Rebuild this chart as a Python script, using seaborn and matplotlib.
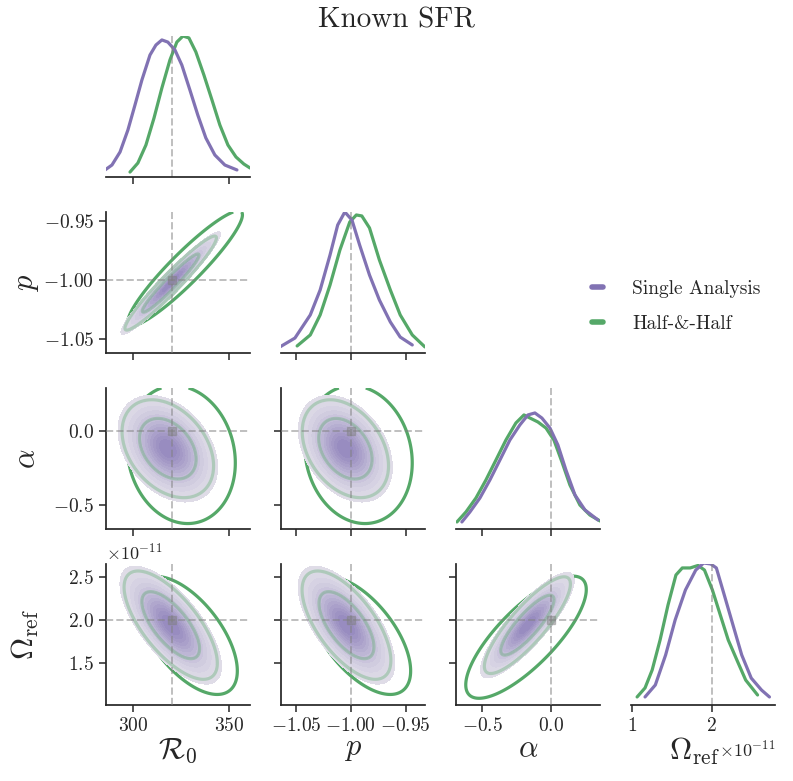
import numpy as np
import matplotlib
matplotlib.use("Agg")
import matplotlib.pyplot as plt
from matplotlib.lines import Line2D
from matplotlib.ticker import NullFormatter
import seaborn as sns

# ---- values ----
PARAM_LABELS = [r"$\mathcal{R}_0$", r"$p$", r"$\alpha$", r"$\Omega_{\rm ref}$"]
TRUTH = [320.0, -1.0, 0.0, 2.0]          # Omega in units of 1e-11
OMEGA_UNIT = 1e-11

# 1D marginals (relative density)
R0_SINGLE_X = [285.3, 288.9, 293.1, 297.2, 300.9, 304.5, 308.7, 311.8, 314.9, 318.0,
               321.7, 325.3, 329.5, 333.6, 337.8, 342.5, 347.7, 354.0]
R0_SINGLE_Y = [0.05, 0.085, 0.177, 0.333, 0.511, 0.688, 0.865, 0.936, 0.972, 0.957,
               0.901, 0.794, 0.617, 0.44, 0.277, 0.156, 0.085, 0.05]
R0_HALF_X = [298.3, 302.4, 306.6, 310.8, 314.9, 319.1, 322.7, 325.9, 329.0, 332.6,
             336.8, 341.0, 345.1, 349.3, 353.5, 357.6, 360.8]
R0_HALF_Y = [0.035, 0.099, 0.227, 0.418, 0.631, 0.83, 0.957, 1.0, 0.986, 0.887,
             0.723, 0.546, 0.369, 0.227, 0.142, 0.092, 0.064]

P_SINGLE_X = [-1.0647, -1.051, -1.037, -1.028, -1.019, -1.012, -1.0055, -0.999, -0.992,
              -0.983, -0.974, -0.964, -0.955, -0.944]
P_SINGLE_Y = [0.043, 0.106, 0.27, 0.447, 0.695, 0.908, 1.0, 0.943, 0.766, 0.553, 0.376,
              0.22, 0.113, 0.057]
P_HALF_X = [-1.049, -1.037, -1.028, -1.019, -1.010, -1.001, -0.995, -0.990, -0.983,
            -0.974, -0.964, -0.955, -0.944, -0.9325]
P_HALF_Y = [0.05, 0.128, 0.27, 0.482, 0.73, 0.929, 0.979, 0.972, 0.887, 0.66, 0.447,
            0.27, 0.128, 0.043]

A_SINGLE_X = [-0.649, -0.590, -0.517, -0.444, -0.371, -0.298, -0.225, -0.166, -0.115,
              -0.064, -0.005, 0.053, 0.112, 0.178, 0.251, 0.346]
A_SINGLE_Y = [0.05, 0.121, 0.22, 0.348, 0.489, 0.631, 0.738, 0.809, 0.823, 0.787, 0.716,
              0.596, 0.418, 0.241, 0.135, 0.064]
A_HALF_X = [-0.685, -0.619, -0.546, -0.473, -0.400, -0.327, -0.254, -0.195, -0.151,
            -0.093, -0.034, 0.024, 0.083, 0.141, 0.214, 0.287, 0.361]
A_HALF_Y = [0.05, 0.121, 0.22, 0.348, 0.489, 0.631, 0.752, 0.809, 0.787, 0.759, 0.716,
            0.631, 0.475, 0.312, 0.17, 0.099, 0.057]

OM_SINGLE_X = [1.16, 1.29, 1.42, 1.54, 1.67, 1.80, 1.90, 1.99, 2.06, 2.16, 2.27, 2.38,
               2.50, 2.63, 2.73]
OM_SINGLE_Y = [0.057, 0.142, 0.355, 0.603, 0.816, 0.957, 1.007, 1.0, 0.972, 0.78, 0.567,
               0.355, 0.191, 0.106, 0.057]
OM_HALF_X = [1.06, 1.16, 1.25, 1.35, 1.45, 1.55, 1.63, 1.73, 1.83, 1.91, 2.01, 2.11,
             2.21, 2.33, 2.43, 2.58]
OM_HALF_Y = [0.057, 0.121, 0.248, 0.461, 0.709, 0.922, 0.972, 0.972, 0.99, 0.957, 0.816,
             0.638, 0.461, 0.305, 0.177, 0.071]

# 2D pairs (row variable, column variable) and shape summaries
PAIR_ROW = [1, 2, 2, 3, 3, 3]
PAIR_COL = [0, 0, 1, 0, 1, 2]
SINGLE_CX = [319.5, 318.0, -1.005, 319.5, -1.004, -0.17]
SINGLE_CY = [-1.0025, -0.12, -0.12, 1.94, 1.94, 1.94]
SINGLE_SX = [10.6, 10.6, 0.0175, 10.8, 0.018, 0.14]
SINGLE_SY = [0.0178, 0.147, 0.147, 0.28, 0.28, 0.25]
SINGLE_RHO = [0.96, -0.35, -0.35, -0.7, -0.65, 0.85]
HALF_CX = [327.0, 325.0, -0.993, 328.0, -0.992, -0.18]
HALF_CY = [-0.990, -0.16, -0.16, 1.82, 1.82, 1.80]
HALF_SX = [12.2, 11.5, 0.020, 10.7, 0.019, 0.18]
HALF_SY = [0.020, 0.19, 0.19, 0.28, 0.28, 0.29]
HALF_RHO = [0.93, -0.12, -0.12, -0.6, -0.6, 0.78]

FILL_MASS = [0.95, 0.9, 0.85, 0.78, 0.7, 0.62, 0.54, 0.46, 0.38, 0.3, 0.22, 0.15, 0.08]
PALE_MASS = [0.92, 0.62]
HALF_MASS = [0.95]

XLIMS = [(285.8, 360.8), (-1.0637, -0.9324), (-0.692, 0.361), (0.983, 2.80)]
YLIMS = [None, (-1.062, -0.942), (-0.662, 0.29), (1.012, 2.651)]
XTICKS = [[300, 350], [-1.05, -1.00, -0.95], [-0.5, 0.0], [1, 2]]
YTICKS = [None, [-1.05, -1.00, -0.95], [-0.5, 0.0], [1.5, 2.0, 2.5]]

# ---- style ----
sns.set_theme(style="ticks")
plt.rcParams.update({
    "font.family": "serif",
    "font.serif": ["cmr10"],
    "mathtext.fontset": "cm",
    "axes.formatter.use_mathtext": True,
    "xtick.labelsize": 14,
    "ytick.labelsize": 14,
})
deep = sns.color_palette("deep")
PURPLE = deep[4]
GREEN = deep[2]
fill_cmap = sns.light_palette(PURPLE, as_cmap=True)
TRUTH_STYLE = dict(color="0.5", ls="--", lw=1.4, alpha=0.5)

W_PX, H_PX = 793, 781
fig = plt.figure(figsize=(W_PX / 100, H_PX / 100), dpi=100)
col_left = [106, 281, 456, 631]
row_top = [36, 212, 388, 564]
aw, ah = 144, 141


def unit(i):
    return OMEGA_UNIT if i == 3 else 1.0


axes = {}
for r in range(4):
    for c in range(r + 1):
        axes[r, c] = fig.add_axes([col_left[c] / W_PX, 1 - (row_top[r] + ah) / H_PX,
                                   aw / W_PX, ah / H_PX])

# ---- diagonal ----
diag = [(R0_SINGLE_X, R0_SINGLE_Y, R0_HALF_X, R0_HALF_Y),
        (P_SINGLE_X, P_SINGLE_Y, P_HALF_X, P_HALF_Y),
        (A_SINGLE_X, A_SINGLE_Y, A_HALF_X, A_HALF_Y),
        (OM_SINGLE_X, OM_SINGLE_Y, OM_HALF_X, OM_HALF_Y)]
for i, (sx, sy, hx, hy) in enumerate(diag):
    ax = axes[i, i]
    u = unit(i)
    sns.lineplot(x=np.array(hx) * u, y=hy, color=GREEN, lw=2.3, ax=ax)
    sns.lineplot(x=np.array(sx) * u, y=sy, color=PURPLE, lw=2.3, ax=ax)
    ax.axvline(TRUTH[i] * u, **TRUTH_STYLE)
    ax.set_ylim(0, 1.0)
    ax.set_yticks([])
    sns.despine(ax=ax, left=True)

# ---- off diagonal ----
for k in range(len(PAIR_ROW)):
    r, c = PAIR_ROW[k], PAIR_COL[k]
    ax = axes[r, c]
    ux, uy = unit(c), unit(r)
    gx = np.linspace(XLIMS[c][0], XLIMS[c][1], 300)
    gy = np.linspace(YLIMS[r][0], YLIMS[r][1], 300)
    X, Y = np.meshgrid(gx, gy)

    def density(cx, cy, sx, sy, rho):
        dx = (X - cx) / sx
        dy = (Y - cy) / sy
        q = (dx ** 2 - 2 * rho * dx * dy + dy ** 2) / (1 - rho ** 2)
        return np.exp(-0.5 * q)

    Zs = density(SINGLE_CX[k], SINGLE_CY[k], SINGLE_SX[k], SINGLE_SY[k], SINGLE_RHO[k])
    Zh = density(HALF_CX[k], HALF_CY[k], HALF_SX[k], HALF_SY[k], HALF_RHO[k])
    ax.contour(X * ux, Y * uy, Zh, levels=sorted(1 - np.array(HALF_MASS)),
               colors=[GREEN], linewidths=2.3, zorder=1)
    fill_levels = sorted(1 - np.array(FILL_MASS)) + [1.01]
    ax.contourf(X * ux, Y * uy, Zs, levels=fill_levels, cmap=fill_cmap,
                vmin=-0.15, vmax=1.25, zorder=2)
    ax.contour(X * ux, Y * uy, Zs, levels=sorted(1 - np.array(PALE_MASS)),
               colors=[GREEN], linewidths=2.3, alpha=0.35, zorder=3)
    ax.axvline(TRUTH[c] * ux, zorder=4, **TRUTH_STYLE)
    ax.axhline(TRUTH[r] * uy, zorder=4, **TRUTH_STYLE)
    ax.plot(TRUTH[c] * ux, TRUTH[r] * uy, marker="s", ms=6, color="0.5", alpha=0.45,
            zorder=5)
    sns.despine(ax=ax)

# ---- ticks, limits, labels ----
for (r, c), ax in axes.items():
    ax.set_xlim(XLIMS[c][0] * unit(c), XLIMS[c][1] * unit(c))
    ax.set_xticks(np.array(XTICKS[c]) * unit(c))
    if r != 3:
        ax.xaxis.set_major_formatter(NullFormatter())
    if r != c:
        ax.set_ylim(YLIMS[r][0] * unit(r), YLIMS[r][1] * unit(r))
        ax.set_yticks(np.array(YTICKS[r]) * unit(r))
        if c != 0:
            ax.yaxis.set_major_formatter(NullFormatter())
    ax.tick_params(direction="out", length=5, width=1.1, colors=".15")
    ax.xaxis.get_offset_text().set_fontsize(13)
    ax.yaxis.get_offset_text().set_fontsize(13)
    ax.set_xlabel("")
    ax.set_ylabel("")

for r in range(1, 4):
    axes[r, 0].set_ylabel(PARAM_LABELS[r], fontsize=22)
    axes[r, 0].yaxis.set_label_coords(-0.45, 0.5)
for c in range(4):
    axes[3, c].set_xlabel(PARAM_LABELS[c], fontsize=22)
    axes[3, c].xaxis.set_label_coords(0.5 if c < 3 else 0.44, -0.22)

fig.text(0.5, 1 - 20 / H_PX, "Known SFR", ha="center", va="center", fontsize=21)

handles = [Line2D([], [], color=PURPLE, lw=4, solid_capstyle="round"),
           Line2D([], [], color=GREEN, lw=4, solid_capstyle="round")]
fig.legend(handles, ["Single Analysis", "Half-&-Half"], loc="upper left",
           bbox_to_anchor=(574 / W_PX, 1 - 262 / H_PX), frameon=False, fontsize=14,
           handlelength=0.6, handletextpad=1.5, labelspacing=0.9)

fig.savefig("out.png", dpi=100)
